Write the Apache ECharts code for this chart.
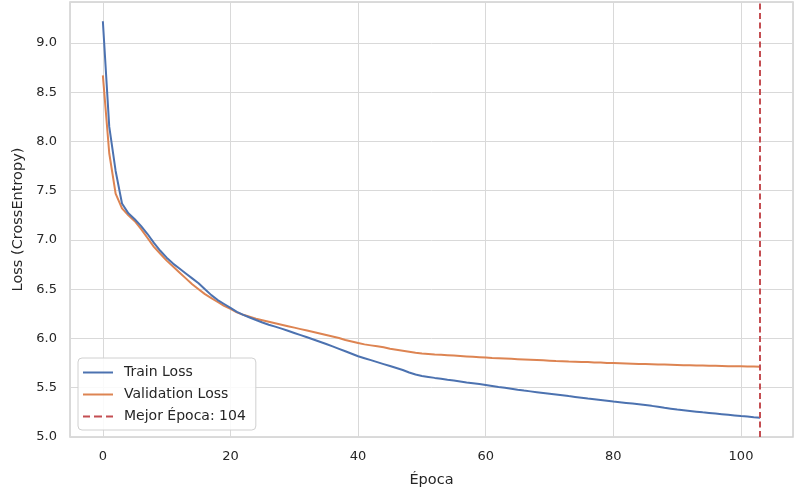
<!DOCTYPE html>
<html>
<head>
<meta charset="utf-8">
<script src="https://cdn.jsdelivr.net/npm/echarts@6/dist/echarts.min.js"></script>
<style>html,body{margin:0;padding:0;background:#fff;}#c{width:794px;height:494px;}</style>
</head>
<body>
<div id="c"></div>
<script>
const trainLoss = [9.22, 8.15, 7.70, 7.37, 7.27, 7.21, 7.14, 7.06, 6.97, 6.89,
  6.82, 6.76, 6.71, 6.66, 6.61, 6.56, 6.50, 6.44, 6.39, 6.35,
  6.31, 6.27, 6.24, 6.213, 6.187, 6.162, 6.14, 6.12, 6.10, 6.078,
  6.056, 6.034, 6.012, 5.99, 5.967, 5.944, 5.92, 5.895, 5.87, 5.845,
  5.82, 5.80, 5.78, 5.76, 5.74, 5.72, 5.70, 5.68, 5.655, 5.635,
  5.620, 5.610, 5.600, 5.592, 5.582, 5.573, 5.563, 5.553, 5.545, 5.537,
  5.528, 5.518, 5.508, 5.499, 5.490, 5.480, 5.471, 5.463, 5.455, 5.447,
  5.439, 5.431, 5.423, 5.415, 5.407, 5.399, 5.391, 5.384, 5.376, 5.368,
  5.360, 5.353, 5.346, 5.339, 5.332, 5.324, 5.316, 5.306, 5.296, 5.287,
  5.278, 5.271, 5.264, 5.257, 5.250, 5.244, 5.238, 5.232, 5.226, 5.219,
  5.212, 5.207, 5.201, 5.196];
const valLoss = [8.67, 7.88, 7.47, 7.32, 7.25, 7.19, 7.11, 7.02, 6.93, 6.86,
  6.79, 6.73, 6.67, 6.61, 6.55, 6.50, 6.45, 6.41, 6.37, 6.33,
  6.30, 6.265, 6.24, 6.22, 6.20, 6.185, 6.17, 6.155, 6.14, 6.125,
  6.11, 6.095, 6.08, 6.065, 6.05, 6.035, 6.02, 6.005, 5.985, 5.97,
  5.955, 5.94, 5.93, 5.92, 5.91, 5.895, 5.885, 5.875, 5.865, 5.855,
  5.848, 5.843, 5.838, 5.834, 5.830, 5.826, 5.822, 5.818, 5.814, 5.810,
  5.806, 5.802, 5.799, 5.796, 5.793, 5.790, 5.787, 5.784, 5.781, 5.778,
  5.775, 5.772, 5.770, 5.767, 5.765, 5.762, 5.760, 5.757, 5.755, 5.752,
  5.750, 5.748, 5.746, 5.744, 5.742, 5.740, 5.738, 5.736, 5.735, 5.733,
  5.731, 5.729, 5.728, 5.726, 5.725, 5.723, 5.722, 5.721, 5.719, 5.718,
  5.717, 5.716, 5.715, 5.714];
const bestEpochIndex = 103;
const bestLabel = 'Mejor Época: 104';
const seriesNames = ['Train Loss', 'Validation Loss'];

const epochs = trainLoss.map((_, i) => i);
const trainData = epochs.map(i => [i, trainLoss[i]]);
const valData = epochs.map(i => [i, valLoss[i]]);
const txt = '#262626';
const gridColor = '#d9d9d9';
const font = 'DejaVu Sans';
const solidIcon = 'path://M0,0h30v2h-30z';
const dashIcon = 'path://M0,0h7v2h-7z M11,0h8v2h-8z M23,0h7v2h-7z';

const chart = echarts.init(document.getElementById('c'), null, {renderer: 'canvas'});
chart.setOption({
  animation: false,
  backgroundColor: '#ffffff',
  textStyle: {fontFamily: font, color: txt},
  grid: {left: 70, right: 1, top: 2, bottom: 57, show: true, borderColor: '#d0d0d0', borderWidth: 1.5, containLabel: false},
  xAxis: {
    type: 'value', min: -5.15, max: 108.15, minInterval: 20, maxInterval: 20,
    name: 'Época', nameLocation: 'middle', nameGap: 36,
    nameTextStyle: {fontFamily: font, fontSize: 14.5, color: txt},
    axisLine: {show: false}, axisTick: {show: false},
    axisLabel: {fontFamily: font, fontSize: 13, color: txt, margin: 13, showMinLabel: false, showMaxLabel: false},
    splitLine: {show: true, lineStyle: {color: gridColor, width: 1}}
  },
  yAxis: {
    type: 'value', min: 5.0, max: 9.415, minInterval: 0.5, maxInterval: 0.5,
    name: 'Loss (CrossEntropy)', nameLocation: 'middle', nameGap: 42,
    nameTextStyle: {fontFamily: font, fontSize: 14.5, color: txt},
    axisLine: {show: false}, axisTick: {show: false},
    axisLabel: {fontFamily: font, fontSize: 13, color: txt, margin: 13, showMaxLabel: false,
      formatter: v => v.toFixed(1)},
    splitLine: {show: true, lineStyle: {color: gridColor, width: 1}}
  },
  legend: {
    orient: 'vertical', left: 78, top: 358,
    itemWidth: 30, itemHeight: 2, itemGap: 5,
    backgroundColor: 'rgba(255,255,255,0.85)', borderColor: '#d0d0d0', borderWidth: 1, borderRadius: 4,
    padding: [6, 10, 5, 5],
    textStyle: {fontFamily: font, fontSize: 14, color: txt, padding: [0, 0, 0, 6], lineHeight: 17},
    data: [
      {name: seriesNames[0], icon: solidIcon},
      {name: seriesNames[1], icon: solidIcon},
      {name: bestLabel, icon: dashIcon}
    ]
  },
  series: [
    {name: seriesNames[0], type: 'line', data: trainData, showSymbol: false, symbol: 'none',
      lineStyle: {color: '#4c72b0', width: 2}, itemStyle: {color: '#4c72b0'}, z: 3},
    {name: seriesNames[1], type: 'line', data: valData, showSymbol: false, symbol: 'none',
      lineStyle: {color: '#dd8452', width: 2}, itemStyle: {color: '#dd8452'}, z: 2},
    {name: bestLabel, type: 'line', data: [], symbol: 'none',
      lineStyle: {color: '#c44e52', width: 2, type: [6, 3.5]}, itemStyle: {color: '#c44e52'},
      markLine: {silent: true, symbol: ['none', 'none'], label: {show: false},
        lineStyle: {color: '#c44e52', width: 2, type: [6, 3.5]},
        data: [{xAxis: bestEpochIndex}]}, z: 4}
  ]
});
</script>
</body>
</html>
